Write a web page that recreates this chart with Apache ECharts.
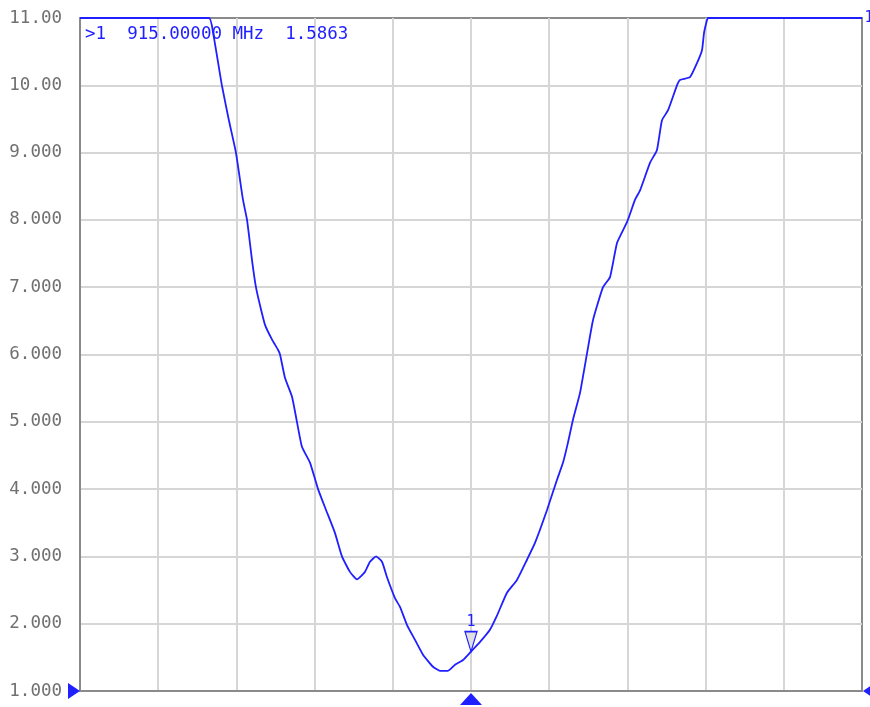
<!DOCTYPE html>
<html>
<head>
<meta charset="utf-8">
<script src="https://cdn.jsdelivr.net/npm/echarts@6/dist/echarts.min.js"></script>
<style>
html,body{margin:0;padding:0;background:#fff;}
#chart{width:870px;height:707px;}
</style>
</head>
<body>
<div id="chart"></div>
<script>
// Frequency (MHz) of each trace point
var freqMHz = [890.00, 898.25, 898.51, 899.08, 899.52, 899.97, 900.42, 900.68, 901.00, 901.25, 901.51,
  901.83, 902.28, 902.66, 902.79, 903.11, 903.56, 903.87, 904.19, 904.71, 905.22, 905.73, 906.30,
  906.75, 907.26, 907.71, 908.22, 908.54, 908.93, 909.31, 909.63, 910.14, 910.46, 910.91, 911.42,
  911.93, 912.57, 913.02, 913.53, 913.98, 914.49, 915.00, 915.58, 916.21, 916.66, 917.30, 917.94,
  918.58, 919.09, 919.86, 920.50, 920.88, 921.20, 921.52, 921.97, 922.42, 922.80, 923.44, 923.89,
  924.34, 924.98, 925.49, 925.81, 926.45, 926.89, 927.21, 927.60, 928.17, 928.36, 929.00, 929.45,
  929.77, 929.90, 930.09, 930.15, 940.00];
// SWR values of the trace
var swr = [11.00, 11.00, 10.78, 9.99, 9.48, 9.00, 8.30, 8.00, 7.40, 7.00, 6.73,
  6.44, 6.22, 6.07, 6.00, 5.65, 5.37, 5.00, 4.63, 4.39, 4.00, 3.69, 3.35,
  3.00, 2.77, 2.66, 2.77, 2.92, 3.00, 2.92, 2.69, 2.38, 2.25, 1.98, 1.76,
  1.54, 1.36, 1.30, 1.30, 1.39, 1.46, 1.5863, 1.73, 1.91, 2.12, 2.46, 2.65,
  2.95, 3.20, 3.69, 4.14, 4.39, 4.69, 5.03, 5.43, 6.02, 6.51, 7.00, 7.15,
  7.66, 7.97, 8.30, 8.44, 8.85, 9.04, 9.48, 9.63, 10.00, 10.08, 10.12, 10.33,
  10.52, 10.78, 10.97, 11.00, 11.00];
// Marker
var markerFreq = 915.0;
var markerValue = 1.5863;
var markerText = '>1  915.00000 MHz  1.5863';
// Axes
var yMin = 1, yMax = 11, yStep = 1;
var xMin = 890, xMax = 940, xStep = 5;

var BLUE = '#1f1fff';
var MONO = 'DejaVu Sans Mono';

var chart = echarts.init(document.getElementById('chart'), null, {renderer: 'canvas'});
var data = freqMHz.map(function (f, i) { return [f, swr[i]]; });

var option = {
  animation: false,
  backgroundColor: '#ffffff',
  grid: {
    left: 80, right: 8, top: 18, bottom: 16,
    show: true, borderColor: '#8a8a8a', borderWidth: 2, backgroundColor: 'transparent'
  },
  xAxis: {
    type: 'value', min: xMin, max: xMax, interval: xStep,
    axisLine: {show: true, lineStyle: {color: '#8a8a8a', width: 2}},
    axisTick: {show: false},
    axisLabel: {show: false},
    splitLine: {show: true, showMinLine: false, showMaxLine: false, lineStyle: {color: '#d6d6d6', width: 2}}
  },
  yAxis: {
    type: 'value', min: yMin, max: yMax, interval: yStep,
    axisLine: {show: true, lineStyle: {color: '#8a8a8a', width: 2}},
    axisTick: {show: false},
    axisLabel: {
      margin: 18,
      fontFamily: MONO, fontSize: 17.5,
      color: function (v) { return v === yMin ? BLUE : '#707070'; },
      formatter: function (v) { return v >= 10 ? v.toFixed(2) : v.toFixed(3); }
    },
    splitLine: {show: true, showMinLine: false, showMaxLine: false, lineStyle: {color: '#d6d6d6', width: 2}}
  },
  graphic: [{
    type: 'text', left: 85, top: 25, z: 100,
    style: {text: markerText, font: '17.5px "' + MONO + '"', fill: BLUE}
  }],
  series: [{
    type: 'line',
    data: data,
    clip: false,
    showSymbol: false,
    smooth: 0.15,
    lineStyle: {color: BLUE, width: 1.8},
    z: 5,
    markPoint: {
      animation: false,
      data: [
        {
          coord: [markerFreq, markerValue],
          symbol: 'triangle', symbolRotate: 180, symbolSize: [12, 20], symbolOffset: [0, -10],
          itemStyle: {color: '#e0e0e0', borderColor: BLUE, borderWidth: 1.4},
          label: {show: true, position: 'top', distance: 1, formatter: '1', color: BLUE, fontFamily: MONO, fontSize: 15}
        },
        {
          coord: [markerFreq, yMin],
          symbol: 'triangle', symbolSize: [22, 12], symbolOffset: [0, 8],
          itemStyle: {color: BLUE}, label: {show: false}
        },
        {
          coord: [xMin, yMin],
          symbol: 'triangle', symbolRotate: -90, symbolSize: [16, 12], symbolOffset: [-6, 0],
          itemStyle: {color: BLUE}, label: {show: false}
        },
        {
          coord: [xMax, yMin],
          symbol: 'triangle', symbolRotate: 90, symbolSize: [16, 12], symbolOffset: [7, 0],
          itemStyle: {color: BLUE}, label: {show: false}
        },
        {
          coord: [xMax, yMax],
          symbol: 'circle', symbolSize: 1, itemStyle: {color: 'rgba(0,0,0,0)'},
          label: {show: true, position: 'inside', offset: [7, 0], formatter: '1', color: BLUE, fontFamily: MONO, fontSize: 15}
        }
      ]
    }
  }]
};
chart.setOption(option);
</script>
</body>
</html>
